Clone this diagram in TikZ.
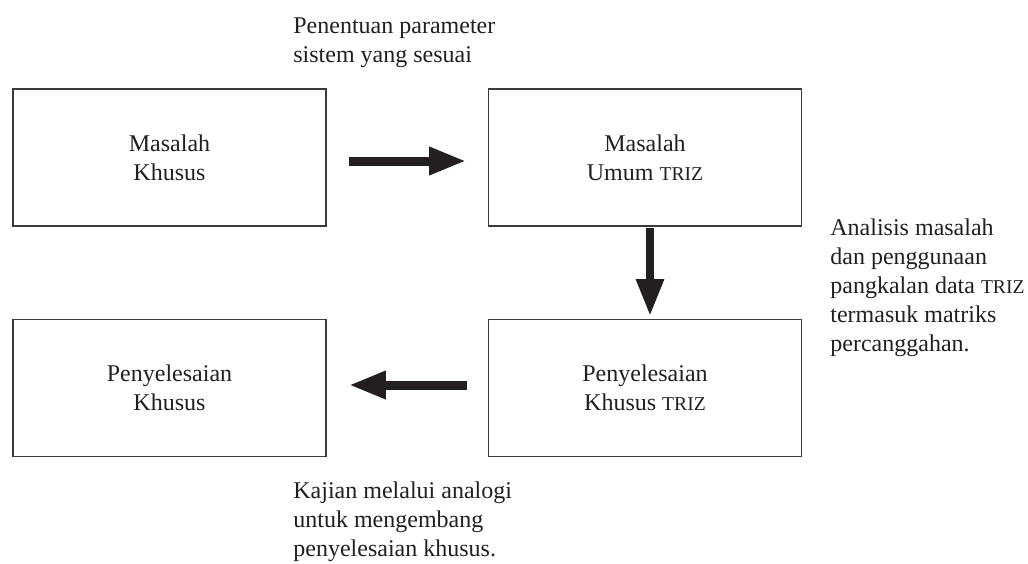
\documentclass[tikz,border=0pt]{standalone}
\usepackage{fontspec}
\setmainfont{Liberation Serif}
\usetikzlibrary{arrows.meta}
\definecolor{ink}{HTML}{231F20}
\definecolor{frame}{HTML}{3A3A3A}
\newcommand{\trizsc}{{\fontsize{9.8}{14.5}\selectfont TRIZ}}
\begin{document}
\begin{tikzpicture}[x=0.5pt,y=-0.5pt,
  every node/.style={font=\fontsize{12}{14.5}\selectfont, text=ink},
  box/.style={draw=frame, line width=0.8pt, minimum width=156.5pt, minimum height=68.5pt, align=center, inner sep=0pt},
  note/.style={align=left, anchor=north west, inner sep=0pt},
  bigarrow/.style={draw=ink, line width=4.5pt, -{Triangle[width=13pt,length=18.5pt]}}]
\useasboundingbox (0,0) rectangle (1028,563);
\node[box] (tl) at (169.5,157.5) {Masalah\\Khusus};
\node[box] (tr) at (645,157.5) {Masalah\\Umum \trizsc};
\node[box] (bl) at (169.5,388) {Penyelesaian\\Khusus};
\node[box] (br) at (645,388) {Penyelesaian\\Khusus \trizsc};
\draw[bigarrow] ([xshift=11pt,yshift=-1.75pt]tl.east) -- ([xshift=-10.75pt,yshift=-1.75pt]tr.west);
\draw[bigarrow, line width=4.25pt] ([xshift=2.5pt,yshift=-0.5pt]tr.south) -- ([xshift=2.5pt,yshift=1.25pt]br.north);
\draw[bigarrow] ([xshift=-10.25pt,yshift=1.5pt]br.west) -- ([xshift=11pt,yshift=1.5pt]bl.east);
\node[note] (top) at (293,12.7) {\strut Penentuan parameter\\sistem yang sesuai};
\node[note] (right) at (830,214.7) {\strut Analisis masalah\\dan penggunaan\\pangkalan data \trizsc\\termasuk matriks\\percanggahan.};
\node[note] (bottom) at (293,477.7) {\strut Kajian melalui analogi\\untuk mengembang\\penyelesaian khusus.};
\end{tikzpicture}
\end{document}
